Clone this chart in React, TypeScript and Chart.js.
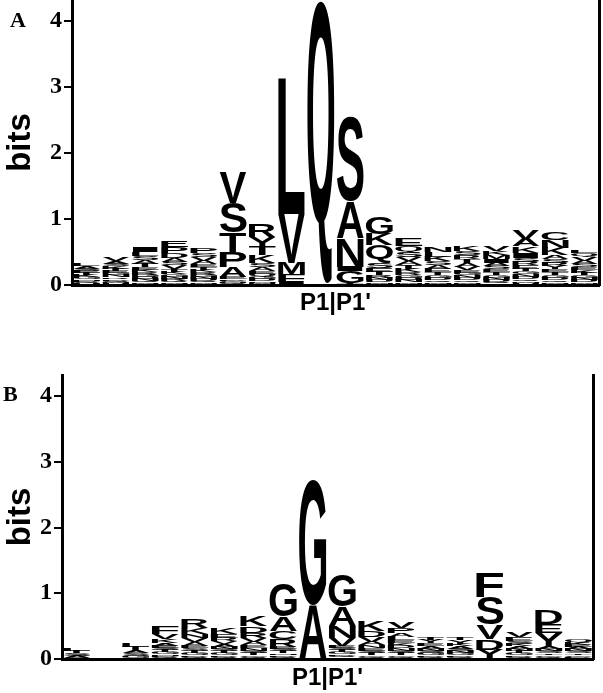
import React, { useEffect, useRef } from 'react';
import { Chart, registerables } from 'chart.js';

Chart.register(...registerables);

// Sequence positions P9 ... P1 | P1' ... P9'
const positions = ['P9', 'P8', 'P7', 'P6', 'P5', 'P4', 'P3', 'P2', 'P1', "P1'", "P2'", "P3'", "P4'", "P5'", "P6'", "P7'", "P8'", "P9'"];

// Panel A: letters per position, bottom -> top, and their heights in bits
const lettersA = [
  'MHQDNGKTESAL',
  'WHMQDRNGETKSAV',
  'HMQNDGRKETASLI',
  'HMQRNGKTVSADPE',
  'HMQDNGRKTEAVSP',
  'MQNGDEAPTSV',
  'HMNDGQEASKTYR',
  'IFMVL',
  'Q',
  'TGINAS',
  'HMDNRTESQKG',
  'HMNDGRKTAVSQE',
  'HMQDGTEASKLN',
  'HMQDNGEVATRSK',
  'HQDNGTESAIMKV',
  'YHMQDNGTERSIKAV',
  'HMQDGTEYRSAKNC',
  'HMDNGTKESAVQL',
];
const bitsA = [
  [0.01, 0.015, 0.02, 0.02, 0.025, 0.03, 0.03, 0.03, 0.035, 0.035, 0.035, 0.04],
  [0.01, 0.015, 0.02, 0.02, 0.025, 0.025, 0.03, 0.03, 0.035, 0.035, 0.04, 0.04, 0.045, 0.05],
  [0.015, 0.02, 0.025, 0.03, 0.03, 0.035, 0.035, 0.04, 0.045, 0.05, 0.055, 0.06, 0.065, 0.075],
  [0.015, 0.02, 0.025, 0.03, 0.035, 0.035, 0.04, 0.045, 0.05, 0.055, 0.06, 0.08, 0.09, 0.1],
  [0.015, 0.02, 0.025, 0.03, 0.03, 0.035, 0.035, 0.04, 0.04, 0.045, 0.05, 0.055, 0.06, 0.07],
  [0.01, 0.015, 0.02, 0.02, 0.025, 0.03, 0.15, 0.23, 0.3, 0.45, 0.46],
  [0.015, 0.02, 0.025, 0.03, 0.035, 0.04, 0.045, 0.055, 0.065, 0.12, 0.13, 0.15, 0.2],
  [0.05, 0.12, 0.17, 0.74, 2.06],
  [4.3],
  [0.03, 0.18, 0.07, 0.44, 0.55, 1.28],
  [0.02, 0.025, 0.03, 0.035, 0.04, 0.05, 0.06, 0.07, 0.27, 0.17, 0.26],
  [0.02, 0.025, 0.03, 0.035, 0.04, 0.045, 0.05, 0.055, 0.06, 0.065, 0.07, 0.1, 0.12],
  [0.02, 0.025, 0.03, 0.035, 0.04, 0.045, 0.05, 0.055, 0.06, 0.07, 0.07, 0.08],
  [0.02, 0.025, 0.03, 0.035, 0.035, 0.04, 0.045, 0.05, 0.055, 0.06, 0.06, 0.065, 0.07],
  [0.02, 0.025, 0.03, 0.035, 0.04, 0.045, 0.045, 0.05, 0.05, 0.055, 0.06, 0.06, 0.07],
  [0.015, 0.02, 0.025, 0.03, 0.035, 0.04, 0.04, 0.045, 0.05, 0.055, 0.06, 0.07, 0.1, 0.11, 0.13],
  [0.02, 0.025, 0.03, 0.035, 0.04, 0.04, 0.045, 0.05, 0.05, 0.055, 0.06, 0.11, 0.12, 0.12],
  [0.02, 0.025, 0.03, 0.035, 0.035, 0.04, 0.04, 0.045, 0.05, 0.05, 0.055, 0.06, 0.04],
];

// Panel B
const lettersB = [
  'GASTL',
  '',
  'NGSATL',
  'HQDNGTSEAKVF',
  'HQDGTSEAVNKR',
  'HQDGTSNAVREK',
  'HQGTSNEAVRDK',
  'HQDNTSERCAG',
  'AG',
  'HQDGTSEVNAG',
  'HQGTSENAVDK',
  'HQGTSNDKELAPV',
  'HQDGSNAEYT',
  'HQDGNSAKYT',
  'YDVSF',
  'HQDGTNAKSEV',
  'HQGTSNAYED',
  'HDGTSNAEKQ',
];
const bitsB = [
  [0.02, 0.03, 0.035, 0.04, 0.045],
  [],
  [0.02, 0.03, 0.04, 0.045, 0.05, 0.055],
  [0.01, 0.015, 0.02, 0.025, 0.03, 0.03, 0.035, 0.04, 0.045, 0.06, 0.07, 0.12],
  [0.01, 0.02, 0.025, 0.03, 0.035, 0.04, 0.045, 0.05, 0.06, 0.06, 0.09, 0.14],
  [0.015, 0.02, 0.025, 0.03, 0.03, 0.035, 0.035, 0.04, 0.045, 0.05, 0.05, 0.1],
  [0.015, 0.02, 0.025, 0.03, 0.035, 0.04, 0.045, 0.05, 0.06, 0.08, 0.1, 0.15],
  [0.015, 0.02, 0.025, 0.025, 0.03, 0.03, 0.035, 0.12, 0.12, 0.22, 0.5],
  [0.82, 1.9],
  [0.02, 0.025, 0.025, 0.03, 0.03, 0.035, 0.035, 0.12, 0.18, 0.3, 0.48],
  [0.015, 0.02, 0.025, 0.03, 0.035, 0.04, 0.045, 0.05, 0.07, 0.1, 0.15],
  [0.015, 0.02, 0.025, 0.03, 0.035, 0.035, 0.04, 0.04, 0.045, 0.05, 0.06, 0.08, 0.1],
  [0.015, 0.02, 0.025, 0.03, 0.03, 0.035, 0.04, 0.045, 0.05, 0.04],
  [0.015, 0.02, 0.025, 0.03, 0.03, 0.035, 0.04, 0.04, 0.05, 0.035],
  [0.14, 0.16, 0.22, 0.42, 0.37],
  [0.015, 0.02, 0.025, 0.03, 0.03, 0.035, 0.04, 0.04, 0.045, 0.05, 0.07],
  [0.015, 0.02, 0.025, 0.025, 0.03, 0.03, 0.035, 0.22, 0.14, 0.21],
  [0.015, 0.02, 0.025, 0.025, 0.03, 0.03, 0.035, 0.035, 0.035, 0.04],
];

const yTicks = [0, 1, 2, 3, 4];
const yMax = 4.32;
const xTitle = "P1|P1'";
const yTitle = 'bits';

function makeLetterPlugin(letters: string[]) {
  return {
    id: 'logoLetters',
    afterDatasetsDraw(chart: any) {
      const ctx = chart.ctx as CanvasRenderingContext2D;
      ctx.save();
      ctx.font = 'bold 100px "Liberation Sans", Arial, sans-serif';
      ctx.textAlign = 'left';
      ctx.textBaseline = 'alphabetic';
      ctx.fillStyle = '#000';
      chart.data.datasets.forEach((_ds: any, k: number) => {
        const meta = chart.getDatasetMeta(k);
        meta.data.forEach((el: any, i: number) => {
          const ch = letters[i] ? letters[i][k] : undefined;
          if (!ch) return;
          const { x, y, base, width } = el.getProps(['x', 'y', 'base', 'width'], true);
          const h = base - y;
          if (!(h > 0)) return;
          const m = ctx.measureText(ch);
          const gw = m.actualBoundingBoxLeft + m.actualBoundingBoxRight;
          const gh = m.actualBoundingBoxAscent + m.actualBoundingBoxDescent;
          ctx.save();
          ctx.translate(x - width / 2, y);
          ctx.scale(width / gw, h / gh);
          ctx.fillText(ch, m.actualBoundingBoxLeft, m.actualBoundingBoxAscent);
          ctx.restore();
        });
      });
      ctx.restore();
    },
  };
}

type PanelProps = {
  letters: string[];
  bits: number[][];
  top: number;
  height: number;
  axisWidth: number;
  padTop: number;
  padRight: number;
  xAxisHeight: number;
  titlePadBottom: number;
};

function LogoPanel(p: PanelProps) {
  const ref = useRef<HTMLCanvasElement | null>(null);
  useEffect(() => {
    if (!ref.current) return;
    const layers = Math.max(...p.bits.map((b) => b.length));
    const datasets = [] as any[];
    for (let k = 0; k < layers; k++) {
      datasets.push({
        data: p.bits.map((b) => (b[k] !== undefined ? b[k] : 0)),
        backgroundColor: 'rgba(0,0,0,0)',
        borderWidth: 0,
        categoryPercentage: 1,
        barPercentage: 0.92,
      });
    }
    const chart = new Chart(ref.current, {
      type: 'bar',
      data: { labels: positions, datasets },
      plugins: [makeLetterPlugin(p.letters)],
      options: {
        responsive: false,
        animation: false,
        layout: { padding: { top: p.padTop, right: p.padRight, left: 0, bottom: 0 } },
        plugins: { legend: { display: false }, tooltip: { enabled: false } },
        scales: {
          x: {
            stacked: true,
            ticks: { display: false },
            grid: { display: false },
            border: { display: true, color: '#000', width: 3 },
            title: {
              display: true,
              text: xTitle,
              color: '#000',
              font: { family: '"Liberation Sans", Arial, sans-serif', size: 24, weight: 'bold' },
              padding: { top: 0, bottom: p.titlePadBottom },
            },
            afterFit: (s: any) => {
              s.height = p.xAxisHeight;
              s.paddingLeft = 0;
              s.paddingRight = 0;
            },
          },
          y: {
            stacked: true,
            min: 0,
            max: yMax,
            afterBuildTicks: (s: any) => {
              s.ticks = yTicks.map((v) => ({ value: v }));
            },
            ticks: {
              color: '#000',
              padding: 2,
              font: { family: '"Liberation Serif", "Times New Roman", serif', size: 24, weight: 'bold' },
            },
            grid: { drawOnChartArea: false, drawTicks: true, tickLength: 8, color: '#000', lineWidth: 2 },
            border: { display: true, color: '#000', width: 3 },
            title: {
              display: true,
              text: yTitle,
              color: '#000',
              font: { family: '"Liberation Sans", Arial, sans-serif', size: 33, weight: 'bold' },
              padding: { top: 1, bottom: 0 },
            },
            afterFit: (s: any) => {
              s.width = p.axisWidth;
              s.paddingTop = 0;
              s.paddingBottom = 0;
            },
          },
          yr: {
            position: 'right',
            display: true,
            min: 0,
            max: 1,
            ticks: { display: false },
            grid: { display: false },
            border: { display: true, color: '#000', width: 3 },
            afterFit: (s: any) => {
              s.width = 2;
              s.paddingTop = 0;
              s.paddingBottom = 0;
            },
          },
        },
      } as any,
    });
    return () => chart.destroy();
  }, []);
  return (
    <canvas
      ref={ref}
      width={603}
      height={p.height}
      style={{ position: 'absolute', left: 0, top: p.top, width: 603, height: p.height, display: 'block' }}
    />
  );
}

const panelLabelStyle: React.CSSProperties = {
  position: 'absolute',
  font: 'bold 22px "Liberation Serif", "Times New Roman", serif',
  lineHeight: '22px',
  color: '#000',
};

export default function App() {
  return (
    <div style={{ position: 'absolute', left: 0, top: 0, width: 603, height: 693, background: '#fff', overflow: 'hidden' }}>
      <LogoPanel
        letters={lettersA}
        bits={bitsA}
        top={0}
        height={330}
        axisWidth={72}
        padTop={0}
        padRight={2}
        xAxisHeight={45}
        titlePadBottom={12.6}
      />
      <LogoPanel
        letters={lettersB}
        bits={bitsB}
        top={340}
        height={353}
        axisWidth={62}
        padTop={35}
        padRight={8}
        xAxisHeight={34}
        titlePadBottom={0.6}
      />
      <div style={{ ...panelLabelStyle, left: 10, top: 9 }}>A</div>
      <div style={{ ...panelLabelStyle, left: 3, top: 383 }}>B</div>
    </div>
  );
}
